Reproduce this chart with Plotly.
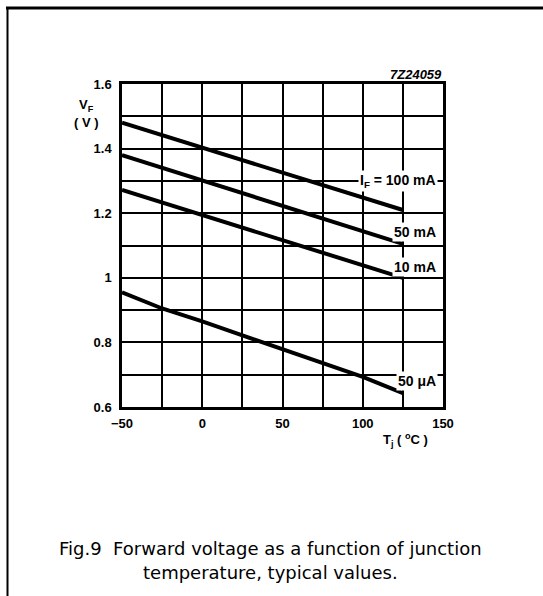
import plotly.graph_objects as go

# ---- data ----
temps_c = [-50, 0, 50, 100, 125]
vf_100mA = [1.480, 1.403, 1.326, 1.249, 1.210]
vf_50mA = [1.380, 1.301, 1.223, 1.144, 1.105]
vf_10mA = [1.272, 1.194, 1.117, 1.039, 1.000]
temps_50uA = [-50, -25, 0, 50, 100, 125]
vf_50uA = [0.955, 0.905, 0.865, 0.780, 0.693, 0.643]

series_labels = ["I<sub>F</sub> = 100 mA", "50 mA", "10 mA", "50 \u03bcA"]

x_tickvals = [-50, -25, 0, 25, 50, 75, 100, 125, 150]
x_ticktext = ["\u221250", "", "0", "", "50", "", "100", "", "150"]
y_tickvals = [0.6, 0.7, 0.8, 0.9, 1.0, 1.1, 1.2, 1.3, 1.4, 1.5, 1.6]
y_ticktext = ["0.6", "", "0.8", "", "1", "", "1.2", "", "1.4", "", "1.6"]

# ---- layout geometry (pixels) ----
W, H = 543, 596
L, R, T, B = 122, 443, 84, 407
PW, PH = R - L, B - T


def px(x):
    return (x - L) / PW


def py(y):
    return (B - y) / PH


FONT = "Liberation Sans, Arial, Helvetica, sans-serif"
CAPFONT = "DejaVu Sans, Liberation Sans, sans-serif"


def note(text, x, y, size=12, xanchor="center", bg=None, bold=True, family=FONT):
    d = dict(text=text, x=px(x), y=py(y), xref="paper", yref="paper",
             xanchor=xanchor, yanchor="middle", showarrow=False, borderpad=1,
             font=dict(family=family, size=size, color="black",
                       weight="bold" if bold else "normal"))
    if bg:
        d["bgcolor"] = bg
    return d


fig = go.Figure()
for xs, ys in [(temps_c, vf_100mA), (temps_c, vf_50mA), (temps_c, vf_10mA), (temps_50uA, vf_50uA)]:
    fig.add_trace(go.Scatter(x=xs, y=ys, mode="lines",
                             line=dict(color="black", width=4),
                             showlegend=False, hoverinfo="skip"))

ann = []
label_pos = [(438, 181), (438, 232), (438, 267), (438, 381)]
for text, (lx, ly) in zip(series_labels, label_pos):
    ann.append(note(text, lx, ly, size=14, xanchor="right", bg="white"))
ann.append(note("V<sub>F</sub>", 86, 105, size=13))
ann.append(note("( V )", 86, 123, size=13))
ann.append(note("T<sub>j</sub> ( <sup>o</sup>C )", 405, 440, size=13))
ann.append(note("<i>7Z24059</i>", 444, 74, size=13, xanchor="right"))
ann.append(note("Fig.9  Forward voltage as a function of junction", 270, 548,
                size=18, bold=False, family=CAPFONT))
ann.append(note("temperature, typical values.", 270, 572,
                size=18, bold=False, family=CAPFONT))

shapes = [
    dict(type="line", xref="paper", yref="paper", x0=px(6), x1=px(543), y0=py(8), y1=py(8),
         line=dict(color="black", width=3)),
    dict(type="line", xref="paper", yref="paper", x0=px(7.5), x1=px(7.5), y0=py(7), y1=py(596),
         line=dict(color="black", width=2)),
]

fig.update_layout(
    width=W, height=H,
    margin=dict(l=L, r=W - R, t=T, b=H - B, pad=0),
    paper_bgcolor="white", plot_bgcolor="white",
    annotations=ann, shapes=shapes,
    xaxis=dict(range=[-50, 150], tickvals=x_tickvals, ticktext=x_ticktext,
               showgrid=True, gridcolor="black", gridwidth=2, zeroline=False,
               showline=True, linecolor="black", linewidth=2.5, mirror=True,
               ticks="", ticklabelstandoff=3,
               tickfont=dict(family=FONT, size=13, color="black", weight="bold")),
    yaxis=dict(range=[0.6, 1.6], tickvals=y_tickvals, ticktext=y_ticktext,
               showgrid=True, gridcolor="black", gridwidth=2, zeroline=False,
               showline=True, linecolor="black", linewidth=2.5, mirror=True,
               ticks="", ticklabelstandoff=5,
               tickfont=dict(family=FONT, size=13, color="black", weight="bold")),
)

fig.write_html("out.html")
